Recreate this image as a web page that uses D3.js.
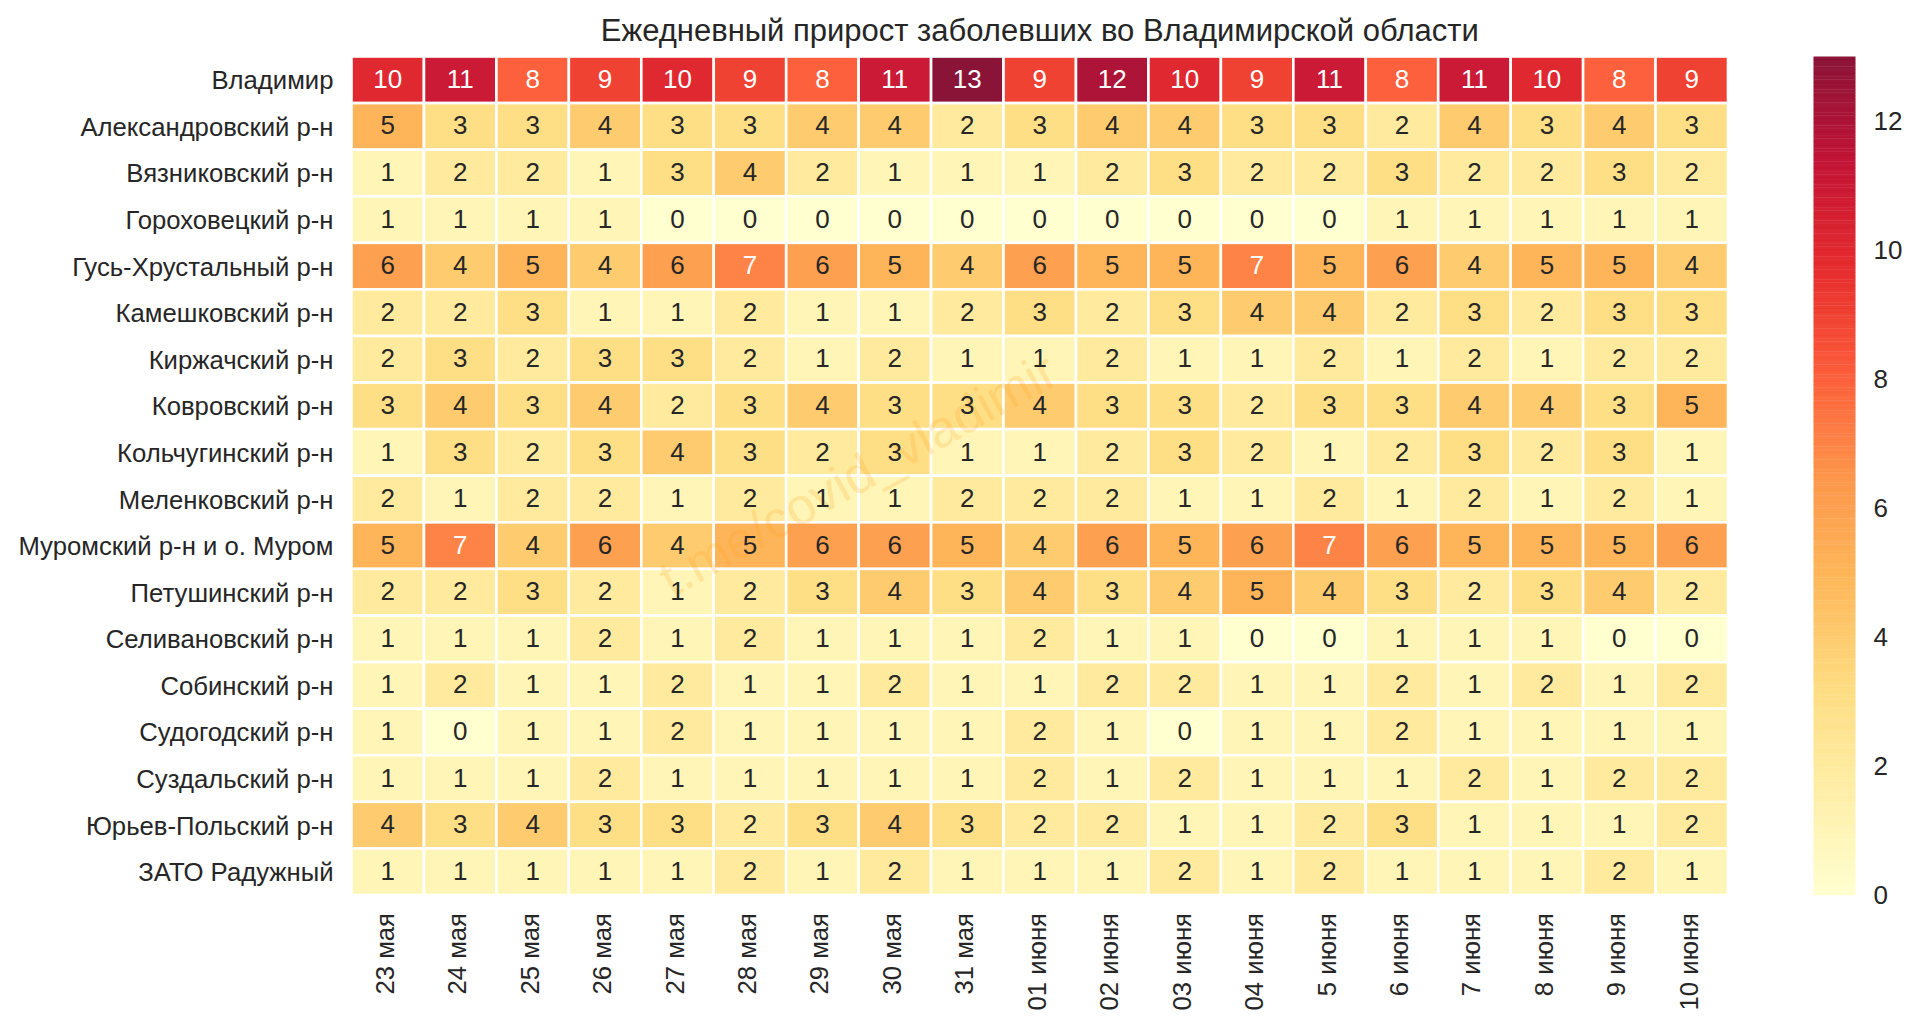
<!DOCTYPE html>
<html>
<head>
<meta charset="utf-8">
<script src="https://d3js.org/d3.v7.min.js"></script>
<style>
  body { margin: 0; background: #fff; }
  text { font-family: "Liberation Sans", Arial, sans-serif; fill: #262626; }
</style>
</head>
<body>
<div id="chart"></div>
<script>
var width = 1920, height = 1029;

var title = 'Ежедневный прирост заболевших во Владимирской области';

var districts = [
  'Владимир', 'Александровский р-н', 'Вязниковский р-н', 'Гороховецкий р-н',
  'Гусь-Хрустальный р-н', 'Камешковский р-н', 'Киржачский р-н', 'Ковровский р-н',
  'Кольчугинский р-н', 'Меленковский р-н', 'Муромский р-н и о. Муром', 'Петушинский р-н',
  'Селивановский р-н', 'Собинский р-н', 'Судогодский р-н', 'Суздальский р-н',
  'Юрьев-Польский р-н', 'ЗАТО Радужный'
];

var days = [
  '23 мая', '24 мая', '25 мая', '26 мая', '27 мая', '28 мая', '29 мая', '30 мая', '31 мая',
  '01 июня', '02 июня', '03 июня', '04 июня', '5 июня', '6 июня', '7 июня', '8 июня', '9 июня', '10 июня'
];

// one row per district, same order as above
var cases = [
  [10, 11, 8, 9, 10, 9, 8, 11, 13, 9, 12, 10, 9, 11, 8, 11, 10, 8, 9],
  [5, 3, 3, 4, 3, 3, 4, 4, 2, 3, 4, 4, 3, 3, 2, 4, 3, 4, 3],
  [1, 2, 2, 1, 3, 4, 2, 1, 1, 1, 2, 3, 2, 2, 3, 2, 2, 3, 2],
  [1, 1, 1, 1, 0, 0, 0, 0, 0, 0, 0, 0, 0, 0, 1, 1, 1, 1, 1],
  [6, 4, 5, 4, 6, 7, 6, 5, 4, 6, 5, 5, 7, 5, 6, 4, 5, 5, 4],
  [2, 2, 3, 1, 1, 2, 1, 1, 2, 3, 2, 3, 4, 4, 2, 3, 2, 3, 3],
  [2, 3, 2, 3, 3, 2, 1, 2, 1, 1, 2, 1, 1, 2, 1, 2, 1, 2, 2],
  [3, 4, 3, 4, 2, 3, 4, 3, 3, 4, 3, 3, 2, 3, 3, 4, 4, 3, 5],
  [1, 3, 2, 3, 4, 3, 2, 3, 1, 1, 2, 3, 2, 1, 2, 3, 2, 3, 1],
  [2, 1, 2, 2, 1, 2, 1, 1, 2, 2, 2, 1, 1, 2, 1, 2, 1, 2, 1],
  [5, 7, 4, 6, 4, 5, 6, 6, 5, 4, 6, 5, 6, 7, 6, 5, 5, 5, 6],
  [2, 2, 3, 2, 1, 2, 3, 4, 3, 4, 3, 4, 5, 4, 3, 2, 3, 4, 2],
  [1, 1, 1, 2, 1, 2, 1, 1, 1, 2, 1, 1, 0, 0, 1, 1, 1, 0, 0],
  [1, 2, 1, 1, 2, 1, 1, 2, 1, 1, 2, 2, 1, 1, 2, 1, 2, 1, 2],
  [1, 0, 1, 1, 2, 1, 1, 1, 1, 2, 1, 0, 1, 1, 2, 1, 1, 1, 1],
  [1, 1, 1, 2, 1, 1, 1, 1, 1, 2, 1, 2, 1, 1, 1, 2, 1, 2, 2],
  [4, 3, 4, 3, 3, 2, 3, 4, 3, 2, 2, 1, 1, 2, 3, 1, 1, 1, 2],
  [1, 1, 1, 1, 1, 2, 1, 2, 1, 1, 1, 2, 1, 2, 1, 1, 1, 2, 1]
];

var legendTicks = [0, 2, 4, 6, 8, 10, 12];

var plot = { left: 351.5, right: 1728, top: 56.5, bottom: 895 };
var bar = { left: 1813.5, right: 1855.5 };
var cellAlpha = 0.92;
var whiteFrom = 7; // annotations turn white on the dark cells

var x = d3.scaleBand().domain(days).range([plot.left, plot.right]);
var y = d3.scaleBand().domain(districts).range([plot.top, plot.bottom]);

// matplotlib YlOrRd is a plain linear ramp through the 9 brewer colours
var ramp = d3.schemeYlOrRd[9];
var color = d3.scaleLinear()
  .domain(d3.range(9).map(function (i) { return i * 13 / 8; }))
  .range(ramp);

var svg = d3.select('#chart').append('svg')
  .attr('width', width)
  .attr('height', height)
  .style('display', 'block');

var cells = [];
cases.forEach(function (row, r) {
  row.forEach(function (v, c) {
    cells.push({ district: districts[r], day: days[c], value: v });
  });
});

svg.append('g').selectAll('rect')
  .data(cells)
  .enter()
  .append('rect')
  .attr('x', function (d) { return x(d.day); })
  .attr('y', function (d) { return y(d.district); })
  .attr('width', x.bandwidth())
  .attr('height', y.bandwidth())
  .attr('fill', function (d) { return color(d.value); })
  .attr('fill-opacity', cellAlpha)
  .attr('stroke', '#fff')
  .attr('stroke-width', 2.6);

// watermark sits under the numbers
svg.append('text')
  .attr('transform', 'translate(672,598) rotate(-29)')
  .style('font-size', '52px')
  .style('fill', '#ffa21f')
  .style('fill-opacity', 0.2)
  .text('t.me/covid_vladimir');

svg.append('g').selectAll('text')
  .data(cells)
  .enter()
  .append('text')
  .attr('x', function (d) { return x(d.day) + x.bandwidth() / 2; })
  .attr('y', function (d) { return y(d.district) + y.bandwidth() / 2 - 1; })
  .attr('dy', '0.35em')
  .attr('text-anchor', 'middle')
  .style('font-size', '26px')
  .style('fill', function (d) { return d.value >= whiteFrom ? '#fff' : '#262626'; })
  .text(function (d) { return d.value; });

// axes
var yAxis = svg.append('g')
  .attr('transform', 'translate(' + plot.left + ',0)')
  .call(d3.axisLeft(y).tickSize(0).tickPadding(18));
yAxis.select('.domain').remove();
yAxis.selectAll('text').attr('dy', '0.37em').style('font-size', '25.7px');

var xAxis = svg.append('g')
  .attr('transform', 'translate(0,' + plot.bottom + ')')
  .call(d3.axisBottom(x).tickSize(0));
xAxis.select('.domain').remove();
xAxis.selectAll('text')
  .attr('transform', 'rotate(-90)')
  .attr('x', -18)
  .attr('y', -3)
  .attr('dy', '0.35em')
  .attr('text-anchor', 'end')
  .style('font-size', '25.7px');

svg.append('text')
  .attr('x', (plot.left + plot.right) / 2)
  .attr('y', 41)
  .attr('text-anchor', 'middle')
  .style('font-size', '31px')
  .text(title);

// colorbar, stacked strips so the alpha banding shows like in the original
var barScale = d3.scaleLinear().domain([0, 13]).range([plot.bottom, plot.top]);
var steps = d3.range(256);
svg.append('g').selectAll('rect')
  .data(steps)
  .enter()
  .append('rect')
  .attr('x', bar.left)
  .attr('width', bar.right - bar.left)
  .attr('y', function (i) { return barScale((i + 1) * 13 / 256); })
  .attr('height', function (i) { return barScale(i * 13 / 256) - barScale((i + 1) * 13 / 256) + 0.3; })
  .attr('fill', function (i) { return color((i + 0.5) * 13 / 256); })
  .attr('fill-opacity', cellAlpha);

var barAxis = svg.append('g')
  .attr('transform', 'translate(' + bar.right + ',0)')
  .call(d3.axisRight(barScale).tickValues(legendTicks).tickSize(0).tickPadding(18));
barAxis.select('.domain').remove();
barAxis.selectAll('text').attr('dy', '0.32em').style('font-size', '26px');
</script>
</body>
</html>
